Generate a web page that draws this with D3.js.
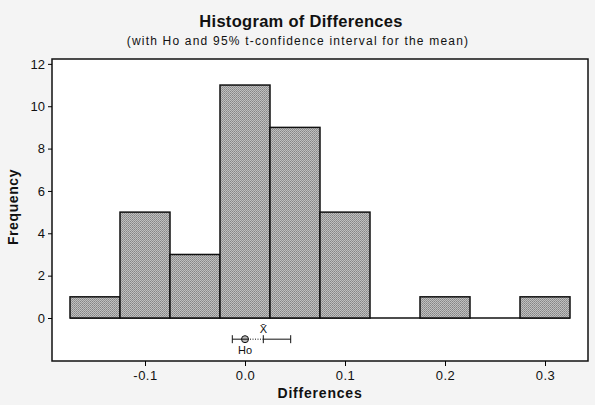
<!DOCTYPE html>
<html>
<head>
<meta charset="utf-8">
<script src="https://cdn.jsdelivr.net/npm/d3@7"></script>
<style>
  body { margin: 0; background: #f4f4f4; }
  text { font-family: 'Liberation Sans', Arial, sans-serif; fill: #111; }
</style>
</head>
<body>
<div id="chart"></div>
<script>
// bins of width 0.05, given by their midpoints
const binMids = [-0.15, -0.10, -0.05, 0.00, 0.05, 0.10, 0.15, 0.20, 0.25, 0.30];
const counts = [1, 5, 3, 11, 9, 5, 0, 1, 0, 1];
const binWidth = 0.05;
const xTicks = [-0.1, 0.0, 0.1, 0.2, 0.3];
const yTicks = [0, 2, 4, 6, 8, 10, 12];
// hypothesis value, mean and 95% t interval
const h0 = 0.0;
const meanDiff = 0.0183;
const ciLow = -0.0127;
const ciHigh = 0.0457;

const W = 595, H = 405;
const margin = { top: 59, right: 7, bottom: 44, left: 52 };
const width = W - margin.left - margin.right;
const height = H - margin.top - margin.bottom;

const svg = d3.select('#chart').append('svg')
  .attr('width', W)
  .attr('height', H);

const defs = svg.append('defs');
const pat = defs.append('pattern')
  .attr('id', 'dots')
  .attr('width', 2).attr('height', 2)
  .attr('patternUnits', 'userSpaceOnUse');
pat.append('rect').attr('width', 2).attr('height', 2).attr('fill', '#c0c0c0');
pat.append('rect').attr('width', 1).attr('height', 1).attr('fill', '#858585');
pat.append('rect').attr('x', 1).attr('y', 1).attr('width', 1).attr('height', 1).attr('fill', '#959595');

const g = svg.append('g')
  .attr('transform', 'translate(' + margin.left + ',' + margin.top + ')');

const x = d3.scaleLinear()
  .domain([-0.193, 0.343])
  .range([0, width]);

const y = d3.scaleLinear()
  .domain([-2.03, 12.23])
  .range([height, 0]);

g.append('rect')
  .attr('width', width)
  .attr('height', height)
  .attr('fill', '#fff')
  .attr('stroke', '#111')
  .attr('stroke-width', 1.5);

// baseline under the bins
g.append('line')
  .attr('x1', x(binMids[0] - binWidth / 2))
  .attr('x2', x(binMids[binMids.length - 1] + binWidth / 2))
  .attr('y1', y(0)).attr('y2', y(0))
  .attr('stroke', '#111')
  .attr('stroke-width', 1.5);

g.selectAll('.bar')
  .data(binMids.map((m, i) => ({ m: m, c: counts[i] })).filter(d => d.c > 0))
  .enter().append('rect')
  .attr('class', 'bar')
  .attr('x', d => x(d.m - binWidth / 2))
  .attr('width', d => x(d.m + binWidth / 2) - x(d.m - binWidth / 2))
  .attr('y', d => y(d.c))
  .attr('height', d => y(0) - y(d.c))
  .attr('fill', 'url(#dots)')
  .attr('stroke', '#111')
  .attr('stroke-width', 1.5);

const fmt = d3.format('.1f');
g.append('g')
  .attr('transform', 'translate(0,' + height + ')')
  .call(d3.axisBottom(x)
    .tickValues(xTicks)
    .tickFormat(d => fmt(d).replace('\u2212', '-'))
    .tickSize(5)
    .tickSizeOuter(0))
  .call(a => a.select('.domain').remove())
  .call(a => a.selectAll('text').attr('font-size', 13).attr('letter-spacing', 0.5).attr('dy', '0.85em'));

g.append('g')
  .call(d3.axisLeft(y)
    .tickValues(yTicks)
    .tickFormat(d3.format('d'))
    .tickSize(4)
    .tickSizeOuter(0))
  .call(a => a.select('.domain').remove())
  .call(a => a.selectAll('text').attr('font-size', 13));

// confidence interval with Ho and mean
const ciY = y(-1);
g.append('line')
  .attr('x1', x(ciLow)).attr('x2', x(h0))
  .attr('y1', ciY).attr('y2', ciY)
  .attr('stroke', '#111');
g.append('line')
  .attr('x1', x(h0)).attr('x2', x(meanDiff))
  .attr('y1', ciY).attr('y2', ciY)
  .attr('stroke', '#111')
  .attr('stroke-dasharray', '1,1.5');
g.append('line')
  .attr('x1', x(meanDiff)).attr('x2', x(ciHigh))
  .attr('y1', ciY).attr('y2', ciY)
  .attr('stroke', '#111');
[ciLow, ciHigh, meanDiff].forEach(v => {
  g.append('line')
    .attr('x1', x(v)).attr('x2', x(v))
    .attr('y1', ciY - 4).attr('y2', ciY + 4)
    .attr('stroke', '#111');
});
g.append('circle')
  .attr('cx', x(h0)).attr('cy', ciY).attr('r', 3.5)
  .attr('fill', '#bbb').attr('stroke', '#111');
g.append('line')
  .attr('x1', x(h0) - 3.5).attr('x2', x(h0) + 3.5)
  .attr('y1', ciY).attr('y2', ciY).attr('stroke', '#111');
g.append('text')
  .attr('x', x(h0)).attr('y', ciY + 15)
  .attr('text-anchor', 'middle').attr('font-size', 11)
  .text('Ho');
g.append('text')
  .attr('x', x(meanDiff)).attr('y', ciY - 6)
  .attr('text-anchor', 'middle').attr('font-size', 11)
  .text('X\u0304');

svg.append('text')
  .attr('x', 301).attr('y', 27)
  .attr('text-anchor', 'middle')
  .attr('font-size', 16.5).attr('font-weight', 'bold')
  .attr('letter-spacing', 0.3)
  .text('Histogram of Differences');
svg.append('text')
  .attr('x', 298).attr('y', 45)
  .attr('text-anchor', 'middle')
  .attr('font-size', 12)
  .attr('letter-spacing', 1.2)
  .text('(with Ho and 95% t-confidence interval for the mean)');
svg.append('text')
  .attr('x', margin.left + width / 2).attr('y', 398)
  .attr('text-anchor', 'middle')
  .attr('font-size', 14).attr('font-weight', 'bold')
  .attr('letter-spacing', 0.8)
  .text('Differences');
svg.append('text')
  .attr('transform', 'translate(18,' + 207 + ') rotate(-90)')
  .attr('text-anchor', 'middle')
  .attr('font-size', 14).attr('font-weight', 'bold')
  .attr('letter-spacing', 0.6)
  .text('Frequency');
</script>
</body>
</html>
